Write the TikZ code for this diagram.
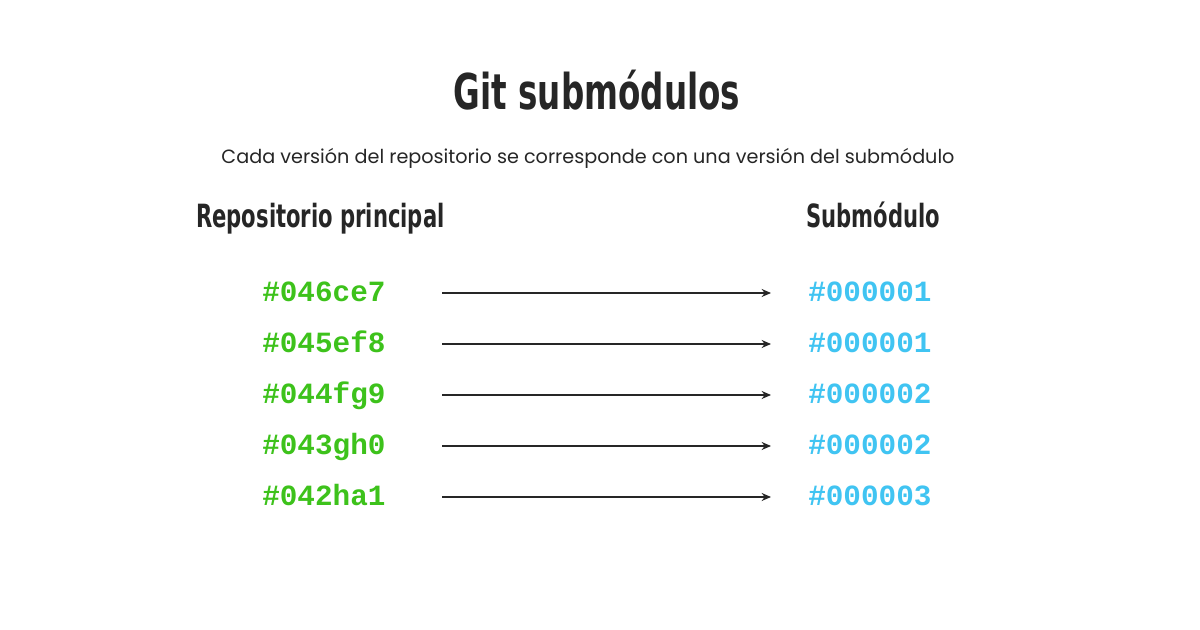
\documentclass[tikz,border=0pt]{standalone}
\usepackage{fontspec}
\usetikzlibrary{arrows.meta}
\newfontfamily\titlefont[FakeStretch=0.66]{DejaVu Sans Bold}
\newfontfamily\subfont{Poppins}
\newfontfamily\codefont[BoldFont={Liberation Mono Bold}]{Liberation Mono}
\definecolor{ink}{HTML}{262626}
\definecolor{gitgreen}{HTML}{3DC21B}
\definecolor{subblue}{HTML}{40C4F2}
\begin{document}
\begin{tikzpicture}[x={(0.75pt,0)},y={(0,-0.75pt)},
  codel/.style={font=\codefont\bfseries\fontsize{22}{24}\selectfont, text=gitgreen, anchor=base west, inner sep=0pt},
  coder/.style={font=\codefont\bfseries\fontsize{22}{24}\selectfont, text=subblue, anchor=base west, inner sep=0pt},
  head/.style={font=\titlefont\fontsize{24}{28}\selectfont, text=ink, inner sep=0pt, anchor=base west},
  link/.style={draw=ink, line width=2.2pt, -{Stealth[length=7pt,width=6pt]}}]
\useasboundingbox[fill=white] (0,0) rectangle (1200,630);
\node[font=\titlefont\fontsize{37}{40}\selectfont, text=ink, inner sep=0pt, anchor=base] (title) at (597,110) {Git submódulos};
\node[font=\subfont\fontsize{14.4}{16}\selectfont, text=ink, inner sep=0pt, anchor=base] (sub) at (588,164) {Cada versión del repositorio se corresponde con una versión del submódulo};
\node[head] (hl) at (196,228) {Repositorio principal};
\node[head] (hr) at (806,228) {Submódulo};
\foreach \i/\a/\b in {0/\#046ce7/\#000001,1/\#045ef8/\#000001,2/\#044fg9/\#000002,3/\#043gh0/\#000002,4/\#042ha1/\#000003}{
  \node[codel] (l\i) at (262,{302+51*\i}) {\a};
  \node[coder] (r\i) at (808,{302+51*\i}) {\b};
  \coordinate (s\i) at (442,{293+51*\i});
  \coordinate (e\i) at (771,{293+51*\i});
  \draw[link] (s\i) -- (e\i);
}
\end{tikzpicture}
\end{document}
